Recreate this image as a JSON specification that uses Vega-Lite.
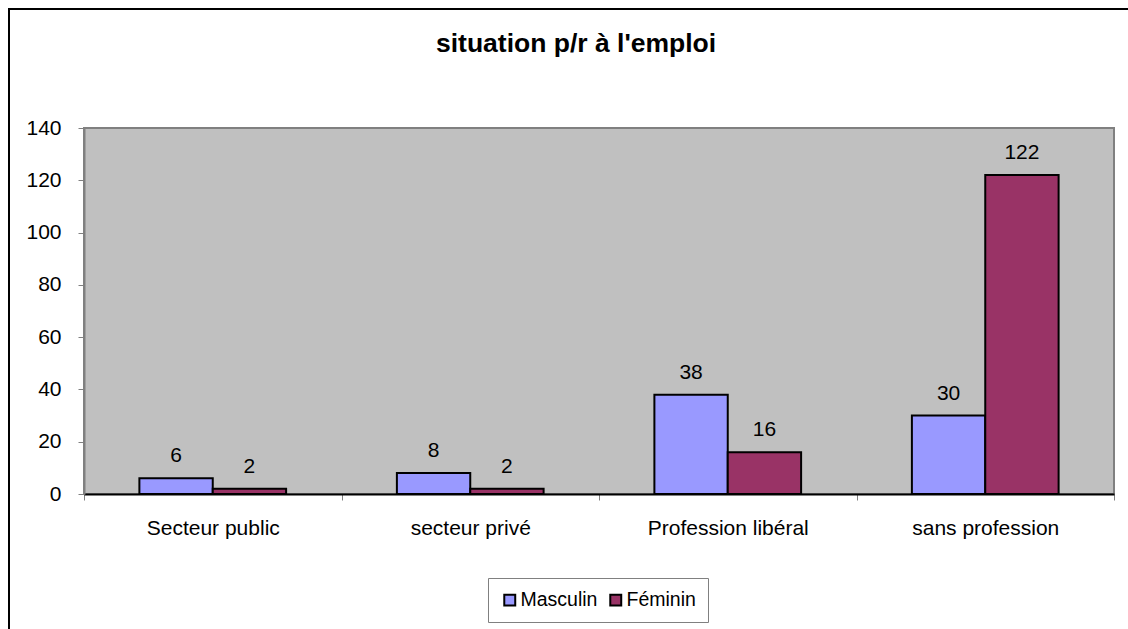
{
  "$schema": "https://vega.github.io/schema/vega-lite/v6.json",
  "autosize": {"type": "none"},
  "padding": {"left": 9, "top": 9, "right": 0, "bottom": 0},
  "width": 1119,
  "height": 620,
  "background": "white",
  "view": {"fill": "white", "stroke": "black", "strokeWidth": 2, "strokeDash": [1119, 1739, 620, 1000], "strokeCap": "butt"},
  "title": {
    "text": "situation p/r à l'emploi",
    "font": "Liberation Sans",
    "fontSize": 26.5,
    "fontWeight": "bold",
    "color": "black",
    "anchor": "start",
    "dx": 427,
    "offset": -48
  },
  "config": {
    "font": "Liberation Sans",
    "axis": {
      "labelFont": "Liberation Sans",
      "labelFontSize": 21,
      "labelColor": "black",
      "grid": false,
      "title": null
    }
  },
  "data": {
    "values": [
      {"categorie": "Secteur public", "sexe": "Masculin", "n": 6},
      {"categorie": "Secteur public", "sexe": "Féminin", "n": 2},
      {"categorie": "secteur privé", "sexe": "Masculin", "n": 8},
      {"categorie": "secteur privé", "sexe": "Féminin", "n": 2},
      {"categorie": "Profession libéral", "sexe": "Masculin", "n": 38},
      {"categorie": "Profession libéral", "sexe": "Féminin", "n": 16},
      {"categorie": "sans profession", "sexe": "Masculin", "n": 30},
      {"categorie": "sans profession", "sexe": "Féminin", "n": 122}
    ]
  },
  "layer": [
    {
      "mark": {"type": "rect", "fill": "#C0C0C0", "stroke": "#808080", "strokeWidth": 2},
      "encoding": {
        "x": {
          "datum": "Secteur public",
          "type": "nominal",
          "bandPosition": 0,
          "scale": {"domain": ["Secteur public", "secteur privé", "Profession libéral", "sans profession"], "range": [75, 1105], "paddingInner": 0, "paddingOuter": 0},
          "axis": {
            "labelAngle": 0,
            "tickBand": "extent",
            "tickSize": 6,
            "tickColor": "#808080",
            "domainColor": "black",
            "domainWidth": 2,
            "labelPadding": 17,
            "labelBaseline": "top",
            "offset": -135,
            "zindex": 1
          }
        },
        "x2": {"datum": "sans profession", "bandPosition": 1},
        "y": {
          "datum": 0,
          "type": "quantitative",
          "scale": {"domain": [0, 140], "nice": false, "range": [485, 119]},
          "axis": {
            "values": [0, 20, 40, 60, 80, 100, 120, 140],
            "tickSize": 6,
            "tickColor": "#808080",
            "domainColor": "#808080",
            "domainWidth": 2,
            "labelPadding": 17,
            "offset": -75,
            "zindex": 1
          }
        },
        "y2": {"datum": 140}
      }
    },
    {
      "mark": {"type": "bar", "stroke": "black", "strokeWidth": 2},
      "encoding": {
        "x": {
          "field": "categorie",
          "type": "nominal"
        },
        "xOffset": {
          "field": "sexe",
          "type": "nominal",
          "sort": ["Masculin", "Féminin"],
          "scale": {"paddingInner": 0, "paddingOuter": 0.755}
        },
        "y": {
          "field": "n",
          "type": "quantitative"
        },
        "color": {
          "field": "sexe",
          "type": "nominal",
          "scale": {"domain": ["Masculin", "Féminin"], "range": ["#9999FF", "#993366"]},
          "legend": {
            "orient": "none",
            "legendX": 479,
            "legendY": 569,
            "direction": "horizontal",
            "title": null,
            "padding": 12,
            "strokeColor": "#808080",
            "fillColor": "white",
            "symbolType": "square",
            "symbolSize": 120,
            "symbolStrokeColor": "black",
            "symbolStrokeWidth": 2,
            "symbolOpacity": 1,
            "labelFont": "Liberation Sans",
            "labelFontSize": 19.5,
            "labelColor": "black",
            "labelOffset": 1,
            "columnPadding": 8
          }
        }
      }
    },
    {
      "mark": {"type": "text", "font": "Liberation Sans", "fontSize": 21, "color": "black", "baseline": "alphabetic", "dy": -16},
      "encoding": {
        "x": {
          "field": "categorie",
          "type": "nominal"
        },
        "xOffset": {
          "field": "sexe",
          "type": "nominal",
          "sort": ["Masculin", "Féminin"]
        },
        "y": {
          "field": "n",
          "type": "quantitative"
        },
        "text": {"field": "n", "type": "quantitative"}
      }
    }
  ]
}
